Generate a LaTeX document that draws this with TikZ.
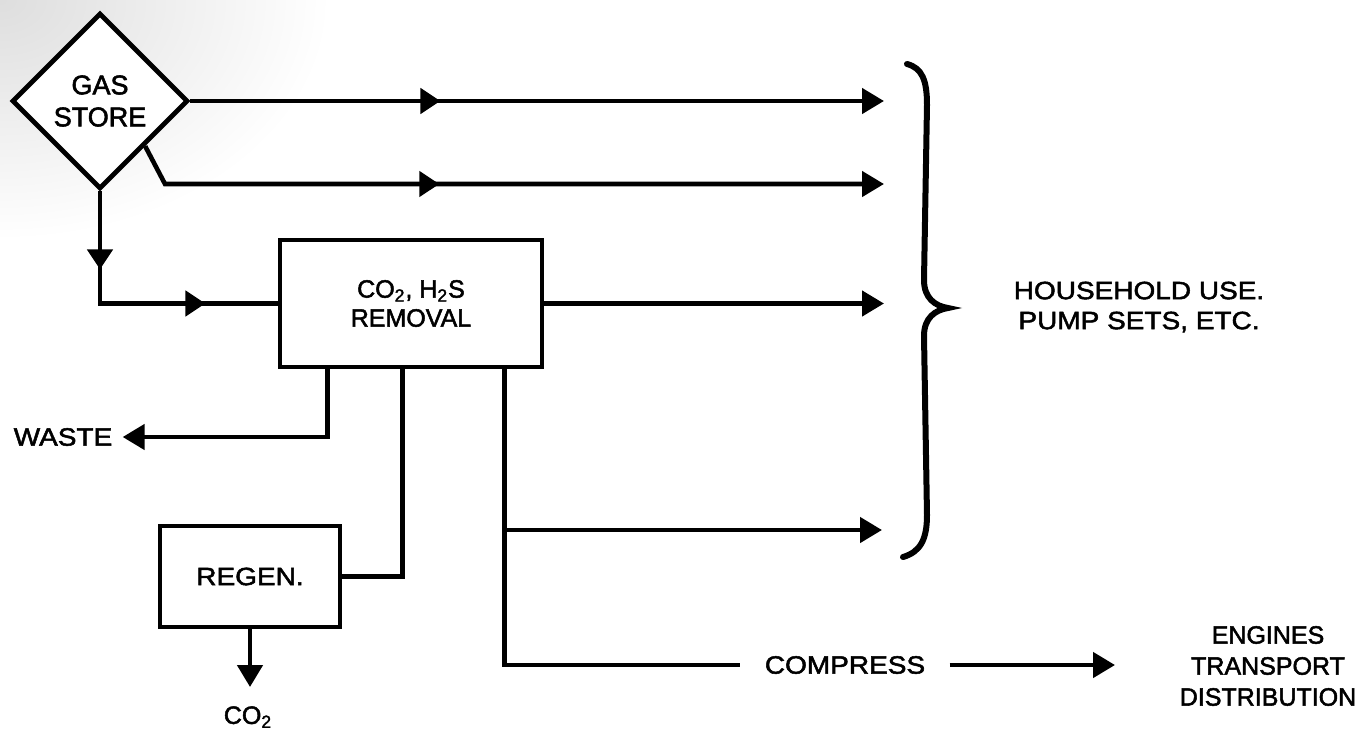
\documentclass[tikz,border=0pt]{standalone}
\usepackage{fontspec}
\setmainfont{Liberation Sans}[FakeBold=2]
\newfontfamily\widefont{Liberation Sans}[FakeBold=2,FakeStretch=1.12]
\usetikzlibrary{arrows.meta,shapes.geometric,decorations.markings}
\tikzset{
  lbl/.style={font=\fontsize{12.5}{15}\selectfont, align=center, inner sep=0pt},
  widelbl/.style={font=\widefont\fontsize{12.5}{15}\selectfont, align=center, inner sep=0pt},
  procbox/.style={draw, line width=2.4pt, rectangle, fill=white, align=center,
    font=\fontsize{12.5}{14.5}\selectfont},
  flow/.style={line width=2.3pt},
  endarrow/.style={-{Triangle[length=11pt,width=12.5pt]}},
  midarrow/.style={postaction={decorate,decoration={markings,
    mark=at position #1 with {\arrow{Triangle[length=10pt,width=12.5pt]}}}}},
  midarrowtwo/.style 2 args={postaction={decorate,decoration={markings,
    mark=at position #1 with {\arrow{Triangle[length=10pt,width=12.5pt]}},
    mark=at position #2 with {\arrow{Triangle[length=10pt,width=12.5pt]}}}}},
}
\begin{document}
\begin{tikzpicture}[x=0.5pt,y=-0.5pt]
\useasboundingbox (0,0) rectangle (1361,729);
\begin{scope}
  \clip (0,0) rectangle (1361,729);
  \shade[inner color=black!13, outer color=white] (0,0) ellipse (330 and 240);
\end{scope}

% nodes
\node[diamond, draw, line width=2.4pt, fill=white, aspect=1, minimum size=88pt,
      inner sep=0pt, align=center, font=\fontsize{13.5}{16}\selectfont] (gas) at (100,101) {GAS\\STORE};
\node[procbox, minimum width=131pt, minimum height=63.5pt] (rem) at (411,303.5)
  {CO\textsubscript{2}, H\textsubscript{2}S\\REMOVAL};
\node[procbox, font=\widefont\fontsize{12.5}{14.5}\selectfont, minimum width=90pt, minimum height=50.5pt] (regen) at (250,576.5) {REGEN.};
\node[widelbl, inner xsep=5pt] (waste) at (63,437) {WASTE};
\node[lbl, anchor=north, inner sep=9.5pt] (co2) at (248,687) {CO\textsubscript{2}};
\node[widelbl, inner xsep=12pt] (compress) at (845,665) {COMPRESS};
\node[lbl, font=\fontsize{12.5}{15.5}\selectfont] (engines) at (1268,666) {ENGINES\\TRANSPORT\\DISTRIBUTION};
\node[widelbl] (house) at (1139,307) {HOUSEHOLD USE.\\PUMP SETS, ETC.};

% coordinates for free ends
\coordinate (k2) at (165,184);
\coordinate (e1) at (884,101);
\coordinate (e2) at (884,184);
\coordinate (e3) at (884,303.5);
\coordinate (e4) at (882,530);
\coordinate (e5) at (1115,665);
\coordinate (b1) at ([xshift=25pt]rem.south west);
\coordinate (b2) at ([xshift=62.5pt]rem.south west);
\coordinate (b3) at ([xshift=113.5pt]rem.south west);

% connectors
\draw[flow, endarrow, midarrow=125pt] (gas.east) -- (e1);
\draw[flow, endarrow, midarrow=158.5pt] (gas.south east) -- (k2) -- (e2);
\draw[flow, midarrowtwo={39pt}{108.75pt}] (gas.south) |- (rem.west);
\draw[flow, endarrow] (rem.east) -- (e3);
\draw[flow, endarrow] (b1) |- (waste.east);
\draw[flow] (b2) |- (regen.east);
\draw[flow, endarrow] (regen.south) -- (regen.south |- co2.north);
\draw[flow] (b3) |- (compress.west);
\draw[flow, endarrow] (b3 |- e4) -- (e4);
\draw[flow, endarrow] (compress.east) -- (e5);

% brace
\draw[line width=3pt, line cap=round]
  (907,64) .. controls (922,68) and (927,80) .. (927,105) -- (924,280)
  .. controls (924,298) and (935,306) .. (948,308)
  .. controls (935,310) and (924,318) .. (924,336) -- (927,515)
  .. controls (927,540) and (920,552) .. (903,557);
\end{tikzpicture}
\end{document}
